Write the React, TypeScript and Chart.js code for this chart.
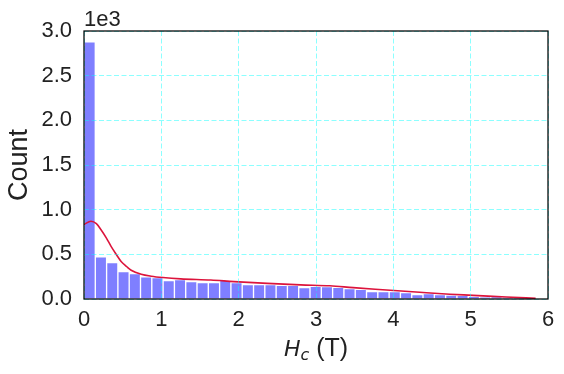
import React, { useEffect, useRef } from 'react';
import { Chart, registerables } from 'chart.js';

Chart.register(...registerables);

// Histogram of H_c (T): 40 bins starting at 0
const binStart = 0;
const binWidth = 0.14613;
const counts = [
  2880, 472, 408, 307, 285, 247, 240, 206, 217, 195,
  183, 183, 210, 185, 161, 161, 161, 153, 153, 127,
  142, 139, 131, 116, 108, 82, 82, 82, 71, 49,
  60, 49, 45, 40, 30, 19, 26, 17, 10, 6,
];

// KDE curve (scaled to counts)
const kdeX = [0.0, 0.09, 0.16, 0.22, 0.29, 0.35, 0.42, 0.48, 0.55, 0.61, 0.74, 0.87, 1.02, 1.25, 1.64, 1.94, 2.37, 2.8, 3.18, 3.48, 3.91, 4.34, 4.73, 5.03, 5.46, 5.84];
const kdeY = [835, 870, 843, 776, 682, 589, 495, 420, 364, 322, 277, 255, 240, 225, 212, 195, 175, 158, 148, 127, 101, 75, 53, 41, 22, 8];

const xTicks = [0, 1, 2, 3, 4, 5, 6];
const yTicks = [0, 500, 1000, 1500, 2000, 2500, 3000];
const yTitle = 'Count';
const yOffsetText = '1e3';

const FONT = '"Liberation Sans", Arial, sans-serif';
const TEXT = '#222222';

const extrasPlugin = {
  id: 'extras',
  afterDraw(chart: any) {
    const ctx = chart.ctx;
    const ca = chart.chartArea;
    ctx.save();
    // full box frame
    ctx.strokeStyle = '#000000';
    ctx.lineWidth = 1.25;
    ctx.strokeRect(ca.left, ca.top, ca.right - ca.left, ca.bottom - ca.top);
    // offset text
    ctx.fillStyle = TEXT;
    ctx.textBaseline = 'alphabetic';
    ctx.textAlign = 'left';
    ctx.font = `22px ${FONT}`;
    ctx.fillText(yOffsetText, ca.left, ca.top - 5);
    // x title: H_c (T)
    const fH = `italic 22px "DejaVu Sans"`;
    const fc = `italic 16px "DejaVu Sans"`;
    const fT = `25px ${FONT}`;
    ctx.font = fH; const wH = ctx.measureText('H').width;
    ctx.font = fc; const wc = ctx.measureText('c').width;
    ctx.font = fT; const wT = ctx.measureText(' (T)').width;
    const total = wH + wc + wT;
    let x = (ca.left + ca.right) / 2 - total / 2;
    const base = 356;
    ctx.font = fH; ctx.fillText('H', x, base); x += wH;
    ctx.font = fc; ctx.fillText('c', x, base + 4); x += wc;
    ctx.font = fT; ctx.fillText(' (T)', x, base);
    ctx.restore();
  },
};

export default function App() {
  const ref = useRef<HTMLCanvasElement | null>(null);

  useEffect(() => {
    document.body.style.margin = '0';
    const barData = counts.map((c, i) => ({ x: binStart + (i + 0.5) * binWidth, y: c }));
    const kdeData = kdeX.map((x, i) => ({ x, y: kdeY[i] }));
    const chart = new Chart(ref.current as HTMLCanvasElement, {
      type: 'bar',
      data: {
        datasets: [
          {
            type: 'line',
            data: kdeData,
            borderColor: '#dc143c',
            borderWidth: 1.6,
            pointRadius: 0,
            fill: false,
            cubicInterpolationMode: 'monotone',
            order: 0,
          } as any,
          {
            type: 'bar',
            data: barData,
            backgroundColor: 'rgba(0,0,255,0.5)',
            borderColor: '#ffffff',
            borderWidth: 1,
            borderSkipped: 'bottom',
            barPercentage: 1,
            categoryPercentage: 1,
            grouped: false,
            order: 1,
          } as any,
        ],
      },
      options: {
        animation: false,
        responsive: false,
        maintainAspectRatio: false,
        layout: { padding: { top: 31, right: 16, left: 0, bottom: 0 } },
        plugins: { legend: { display: false }, tooltip: { enabled: false } },
        scales: {
          x: {
            type: 'linear',
            min: 0,
            max: 6,
            offset: false,
            afterBuildTicks: (s: any) => { s.ticks = xTicks.map((v) => ({ value: v })); },
            afterFit: (s: any) => { s.height = 75; },
            grid: { color: 'rgba(0,255,255,0.45)', lineWidth: 1, drawTicks: false, offset: false, z: 1 },
            border: { display: false, dash: [5, 2.5] },
            ticks: {
              color: TEXT,
              font: { family: FONT, size: 22 },
              padding: 8,
              maxRotation: 0,
              callback: (v: any) => String(v),
            },
          } as any,
          y: {
            type: 'linear',
            min: 0,
            max: 3000,
            afterBuildTicks: (s: any) => { s.ticks = yTicks.map((v) => ({ value: v })); },
            afterFit: (s: any) => { s.width = 84; },
            grid: { color: 'rgba(0,255,255,0.45)', lineWidth: 1, drawTicks: false, offset: false, z: 1 },
            border: { display: false, dash: [5, 2.5] },
            ticks: {
              color: TEXT,
              font: { family: FONT, size: 22 },
              padding: 12,
              callback: (v: any) => (Number(v) / 1000).toFixed(1),
            },
            title: {
              display: true,
              text: yTitle,
              color: TEXT,
              font: { family: FONT, size: 27 },
              padding: { top: 3, bottom: 0 },
            },
          } as any,
        },
      },
      plugins: [extrasPlugin],
    });
    return () => chart.destroy();
  }, []);

  return (
    <div style={{ width: 564, height: 374, background: '#ffffff' }}>
      <canvas ref={ref} width={564} height={374} style={{ display: 'block', width: 564, height: 374 }} />
    </div>
  );
}
